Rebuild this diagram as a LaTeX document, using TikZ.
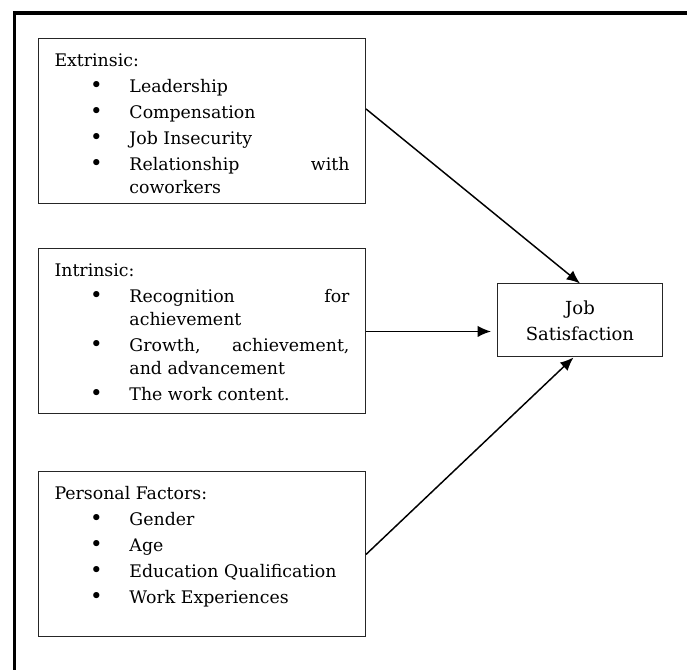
\documentclass[tikz,border=0pt]{standalone}
\usepackage{fontspec}
\setmainfont{DejaVu Serif}
\usetikzlibrary{positioning,arrows.meta}

\newenvironment{factlist}{%
  \begin{list}{{\fontsize{16pt}{16pt}\selectfont\textbullet}}{%
    \setlength{\leftmargin}{56.25pt}\setlength{\labelsep}{20pt}%
    \setlength{\labelwidth}{30pt}\setlength{\itemindent}{0pt}%
    \setlength{\itemsep}{2.25pt}\setlength{\parsep}{0pt}%
    \setlength{\topsep}{2.25pt}\setlength{\partopsep}{0pt}}}%
  {\end{list}}
\newcommand{\factbox}[2]{\parbox[c][123.75pt][t]{221.25pt}{%
  \setlength{\parskip}{0pt}\rule{0pt}{21pt}#1\begin{factlist}#2\end{factlist}}}

\begin{document}
\begin{tikzpicture}[
    factor/.style={draw=black!85, line width=0.75pt, inner xsep=12pt, inner ysep=0pt,
      font={\fontsize{13pt}{17.25pt}\selectfont}},
    outcome/.style={draw=black!85, line width=0.75pt, minimum width=123.75pt,
      minimum height=54.75pt, align=center, font={\fontsize{13.5pt}{19.5pt}\selectfont}},
    link/.style={-{Latex[length=10pt,width=8.5pt]}, line width=1.1pt}]
  \useasboundingbox (0,0) rectangle (515.25pt,-502.5pt);
  \draw[line width=2.7pt] (10.9pt,-520pt) |- (530pt,-9.75pt);

  \node[factor] (ext) at (151.5pt,-91.1pt) {\factbox{Extrinsic:}{%
      \item Leadership
      \item Compensation
      \item Job Insecurity
      \item Relationship with\linebreak coworkers}};
  \node[factor, below=33pt of ext] (int) {\factbox{Intrinsic:}{%
      \item Recognition for\linebreak achievement
      \item Growth, achievement,\linebreak and advancement
      \item The work content.}};
  \node[factor, below=42.75pt of int] (per) {\factbox{Personal Factors:}{%
      \item Gender
      \item Age
      \item Education Qualification
      \item Work Experiences}};
  \node[outcome, right=98.25pt of int, yshift=8.25pt] (js) {Job\\Satisfaction};

  \path[link] ([yshift=9.4pt]ext.east) edge (js.north)
    (int.east) edge[shorten >=4.5pt] (int.east -| js.west)
    (per.east) edge ([xshift=-4.9pt]js.south);
\end{tikzpicture}
\end{document}
